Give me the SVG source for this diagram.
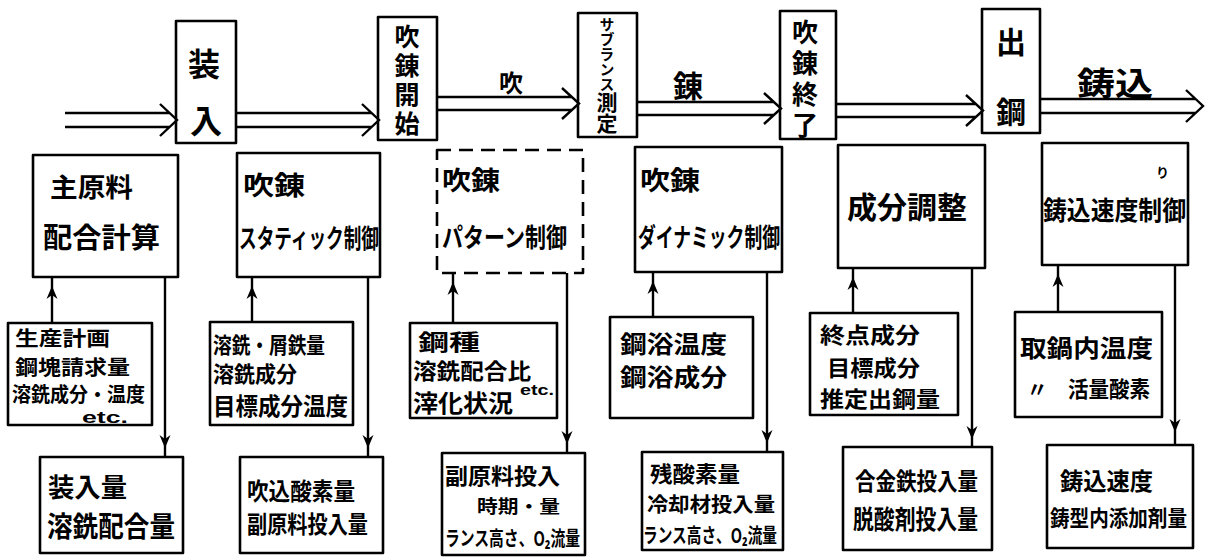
<svg xmlns="http://www.w3.org/2000/svg" width="1206" height="559" viewBox="0 0 1206 559">
<style>
.bg{fill:#fff}
.box{fill:none;stroke:#000;stroke-width:2.6;stroke-linejoin:round}
.dash{stroke-dasharray:14 8}
.ln{fill:none;stroke:#000;stroke-width:2.4}
.t{font-family:"Noto Sans CJK JP","Noto Sans",sans-serif;font-weight:700;fill:#000}
.e{font-family:"Liberation Sans",sans-serif;font-weight:700;fill:#000}
.v{writing-mode:vertical-rl;text-orientation:upright}
</style>
<defs>
<marker id="ah" viewBox="-14 -7 15 14" refX="0" refY="0" markerWidth="15" markerHeight="14" orient="auto" markerUnits="userSpaceOnUse">
<path d="M0,0 L-13,-5.5 L-9,0 L-13,5.5 Z" fill="#000"/>
</marker>
</defs>
<rect class="bg" x="0" y="0" width="1206" height="559"/>

<!-- top process nodes -->
<g id="p-sonyu">
<rect class="box" x="176" y="21" width="60" height="122"/>
<text class="t" font-size="32" text-anchor="middle"><tspan x="204" y="76">装</tspan><tspan x="206" y="133">入</tspan></text>
</g>
<g id="p-start">
<rect class="box" x="378" y="17" width="59" height="123"/>
<text class="t v" font-size="25" letter-spacing="4" x="407" y="24">吹錬開始</text>
</g>
<g id="p-sublance">
<rect class="box" x="578" y="13" width="59" height="124"/>
<text class="t v" x="607" y="17"><tspan font-size="15">サブランス</tspan><tspan font-size="21">測定</tspan></text>
</g>
<g id="p-end">
<rect class="box" x="780" y="11" width="56" height="128"/>
<text class="t v" font-size="26" letter-spacing="5" x="805" y="19">吹錬終了</text>
</g>
<g id="p-tap">
<rect class="box" x="982" y="9" width="58" height="124"/>
<text class="t" font-size="30" text-anchor="middle"><tspan x="1011" y="53">出</tspan><tspan x="1011" y="123">鋼</tspan></text>
</g>

<!-- labels on process arrows -->
<g id="lbl-fuki"><text class="t" font-size="24" x="499" y="92">吹</text></g>
<g id="lbl-ren"><text class="t" font-size="30" x="673" y="97">錬</text></g>
<g id="lbl-ikomi"><text class="t" font-size="32" x="1077" y="95" textLength="76" lengthAdjust="spacingAndGlyphs">鋳込</text></g>

<!-- control nodes -->
<g id="c1">
<rect class="box" x="33" y="155" width="145" height="122"/>
<text class="t" font-size="26" x="50" y="197" textLength="83" lengthAdjust="spacingAndGlyphs">主原料</text>
<text class="t" font-size="28" x="43" y="248" textLength="117" lengthAdjust="spacingAndGlyphs">配合計算</text>
</g>
<g id="c2">
<rect class="box" x="237" y="153" width="143" height="124"/>
<text class="t" font-size="26" x="243" y="195" textLength="62" lengthAdjust="spacingAndGlyphs">吹錬</text>
<text class="t" font-size="26" x="239" y="248" textLength="140" lengthAdjust="spacingAndGlyphs">スタティック制御</text>
</g>
<g id="c3">
<rect class="box dash" x="437" y="150" width="146" height="123"/>
<text class="t" font-size="26" x="442" y="190" textLength="58" lengthAdjust="spacingAndGlyphs">吹錬</text>
<text class="t" font-size="26" x="442" y="247" textLength="125" lengthAdjust="spacingAndGlyphs">パターン制御</text>
</g>
<g id="c4">
<rect class="box" x="635" y="147" width="147" height="125"/>
<text class="t" font-size="26" x="640" y="190" textLength="60" lengthAdjust="spacingAndGlyphs">吹錬</text>
<text class="t" font-size="26" x="638" y="247" textLength="142" lengthAdjust="spacingAndGlyphs">ダイナミック制御</text>
</g>
<g id="c5">
<rect class="box" x="838" y="145" width="147" height="123"/>
<text class="t" font-size="30" x="847" y="218" textLength="120" lengthAdjust="spacingAndGlyphs">成分調整</text>
</g>
<g id="c6">
<rect class="box" x="1042" y="143" width="146" height="122"/>
<text class="t" font-size="13" x="1156" y="177">り</text>
<text class="t" font-size="26" x="1043" y="220" textLength="143" lengthAdjust="spacingAndGlyphs">鋳込速度制御</text>
</g>

<!-- input nodes -->
<g id="i1">
<rect class="box" x="8" y="323" width="144" height="102"/>
<text class="t" font-size="20" x="15" y="346" textLength="95" lengthAdjust="spacingAndGlyphs">生産計画</text>
<text class="t" font-size="20" x="15" y="375" textLength="115" lengthAdjust="spacingAndGlyphs">鋼塊請求量</text>
<text class="t" font-size="20" x="12" y="402" textLength="133" lengthAdjust="spacingAndGlyphs">溶銑成分・温度</text>
<text class="e" font-size="17" x="82" y="423" textLength="46" lengthAdjust="spacingAndGlyphs">etc.</text>
</g>
<g id="i2">
<rect class="box" x="210" y="322" width="143" height="103"/>
<text class="t" font-size="22" x="213" y="353" textLength="112" lengthAdjust="spacingAndGlyphs">溶銑・屑鉄量</text>
<text class="t" font-size="22" x="213" y="382" textLength="84" lengthAdjust="spacingAndGlyphs">溶銑成分</text>
<text class="t" font-size="24" x="213" y="415" textLength="135" lengthAdjust="spacingAndGlyphs">目標成分温度</text>
</g>
<g id="i3">
<rect class="box" x="410" y="323" width="147" height="95"/>
<text class="t" font-size="22" x="418" y="350" textLength="62" lengthAdjust="spacingAndGlyphs">鋼種</text>
<text class="t" font-size="22" x="413" y="379" textLength="118" lengthAdjust="spacingAndGlyphs">溶銑配合比</text>
<text class="t" font-size="24" x="413" y="412" textLength="100" lengthAdjust="spacingAndGlyphs">滓化状況</text>
<text class="e" font-size="15" x="520" y="395" textLength="34" lengthAdjust="spacingAndGlyphs">etc.</text>
</g>
<g id="i4">
<rect class="box" x="610" y="317" width="143" height="101"/>
<text class="t" font-size="24" x="620" y="353" textLength="107" lengthAdjust="spacingAndGlyphs">鋼浴温度</text>
<text class="t" font-size="24" x="620" y="386" textLength="107" lengthAdjust="spacingAndGlyphs">鋼浴成分</text>
</g>
<g id="i5">
<rect class="box" x="810" y="313" width="148" height="102"/>
<text class="t" font-size="22" x="820" y="343" textLength="100" lengthAdjust="spacingAndGlyphs">終点成分</text>
<text class="t" font-size="22" x="827" y="376" textLength="93" lengthAdjust="spacingAndGlyphs">目標成分</text>
<text class="t" font-size="22" x="820" y="407" textLength="120" lengthAdjust="spacingAndGlyphs">推定出鋼量</text>
</g>
<g id="i6">
<rect class="box" x="1015" y="312" width="147" height="105"/>
<text class="t" font-size="24" x="1020" y="357" textLength="133" lengthAdjust="spacingAndGlyphs">取鍋内温度</text>
<text class="t" font-size="22" x="1027" y="397" textLength="123" lengthAdjust="spacingAndGlyphs">〃　活量酸素</text>
</g>

<!-- output nodes -->
<g id="o1">
<rect class="box" x="40" y="457" width="143" height="96"/>
<text class="t" font-size="26" x="48" y="497" textLength="79" lengthAdjust="spacingAndGlyphs">装入量</text>
<text class="t" font-size="28" x="47" y="537" textLength="128" lengthAdjust="spacingAndGlyphs">溶銑配合量</text>
</g>
<g id="o2">
<rect class="box" x="240" y="457" width="143" height="96"/>
<text class="t" font-size="24" x="247" y="500" textLength="108" lengthAdjust="spacingAndGlyphs">吹込酸素量</text>
<text class="t" font-size="24" x="247" y="533" textLength="121" lengthAdjust="spacingAndGlyphs">副原料投入量</text>
</g>
<g id="o3">
<rect class="box" x="442" y="453" width="143" height="102"/>
<text class="t" font-size="22" x="445" y="484" textLength="115" lengthAdjust="spacingAndGlyphs">副原料投入</text>
<text class="t" font-size="18" x="477" y="513" textLength="83" lengthAdjust="spacingAndGlyphs">時期・量</text>
<text class="t" font-size="20" x="445" y="546" textLength="135" lengthAdjust="spacingAndGlyphs">ランス高さ、O₂流量</text>
</g>
<g id="o4">
<rect class="box" x="642" y="452" width="141" height="98"/>
<text class="t" font-size="22" x="650" y="482" textLength="90" lengthAdjust="spacingAndGlyphs">残酸素量</text>
<text class="t" font-size="20" x="647" y="512" textLength="128" lengthAdjust="spacingAndGlyphs">冷却材投入量</text>
<text class="t" font-size="20" x="643" y="543" textLength="134" lengthAdjust="spacingAndGlyphs">ランス高さ、O₂流量</text>
</g>
<g id="o5">
<rect class="box" x="843" y="447" width="149" height="103"/>
<text class="t" font-size="24" x="855" y="490" textLength="123" lengthAdjust="spacingAndGlyphs">合金鉄投入量</text>
<text class="t" font-size="26" x="853" y="529" textLength="125" lengthAdjust="spacingAndGlyphs">脱酸剤投入量</text>
</g>
<g id="o6">
<rect class="box" x="1047" y="445" width="146" height="103"/>
<text class="t" font-size="24" x="1060" y="490" textLength="93" lengthAdjust="spacingAndGlyphs">鋳込速度</text>
<text class="t" font-size="22" x="1050" y="526" textLength="137" lengthAdjust="spacingAndGlyphs">鋳型内添加剤量</text>
</g>

<!-- connectors -->
<g id="connectors">
<g id="flow" class="ln">
<path d="M65,113 H170 M65,127 H170 M160,104 L177,120 L160,136"/>
<path d="M237,113 H372 M237,127 H372 M362,104 L379,120 L362,136"/>
<path d="M437,97 H572 M437,110 H572 M562,88 L579,103.5 L562,119"/>
<path d="M637,102 H774 M637,115 H774 M764,93 L781,108.5 L764,124"/>
<path d="M836,104 H976 M836,117 H976 M966,95 L983,110.5 L966,126"/>
<path d="M1040,99 H1196 M1040,113 H1196 M1186,90 L1203,106 L1186,122"/>
</g>
<g class="ln" marker-mid="url(#ah)">
<path d="M52,323 L52,286 L52,277"/>
<path d="M165,277 L165,448 L165,457"/>
<path d="M252,322 L252,286 L252,277"/>
<path d="M368,277 L368,448 L368,457"/>
<path d="M453,323 L453,282 L453,273"/>
<path d="M567,273 L567,444 L567,453"/>
<path d="M653,317 L653,281 L653,272"/>
<path d="M767,272 L767,443 L767,452"/>
<path d="M853,313 L853,277 L853,268"/>
<path d="M972,268 L972,439 L972,447"/>
<path d="M1058,312 L1058,274 L1058,265"/>
<path d="M1175,265 L1175,432 L1175,445"/>
</g>
</g>
</svg>
